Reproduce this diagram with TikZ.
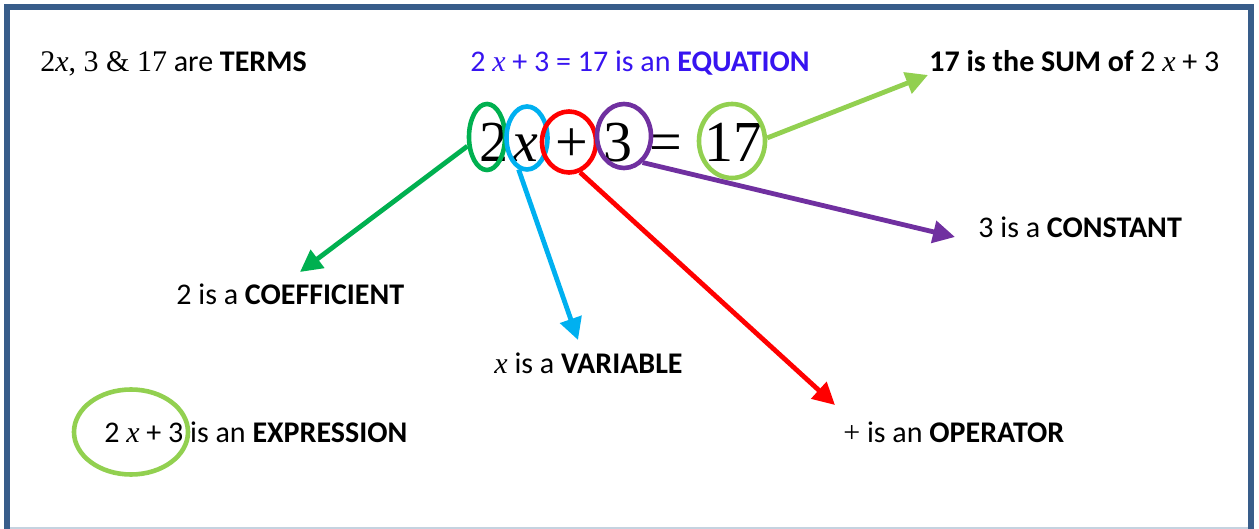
\documentclass[tikz,border=0pt]{standalone}
\usepackage{fontspec}
\setmainfont{Carlito}
\newfontfamily\eqfont{Liberation Serif}
\newcommand{\vx}{{\eqfont\itshape x}}
\usetikzlibrary{arrows.meta,shapes.geometric}
\definecolor{cgreen}{RGB}{0,176,80}
\definecolor{ccyan}{RGB}{0,176,240}
\definecolor{cred}{RGB}{255,0,0}
\definecolor{cpurple}{RGB}{112,48,160}
\definecolor{clgreen}{RGB}{146,208,80}
\definecolor{cframe}{RGB}{56,93,138}
\definecolor{cblue}{RGB}{55,20,240}
\definecolor{cbottom}{RGB}{197,211,224}
\tikzset{
  lab/.style={anchor=base west, inner sep=0pt, font=\fontsize{15}{18}\selectfont},
  sym/.style={anchor=base, inner sep=0pt, font=\eqfont\fontsize{29}{32}\selectfont},
  ring/.style={draw, ellipse, line width=2.3pt, inner sep=0pt},
  arr/.style={line width=2.4pt, -{Triangle[length=11pt,width=11pt]}}
}
\begin{document}
\begin{tikzpicture}[x=0.5pt,y=-0.5pt]
\useasboundingbox (0,0) rectangle (1259,529);
\begin{scope}
\clip (0,0) rectangle (1259,529);
\draw[cframe, line width=3pt] (7,7) rectangle (1251,560);
\draw[cbottom, line width=1pt] (10,528) -- (1248,528);
\end{scope}

% big equation symbols
\node[sym] (s2) at (494,162) {2};
\node[sym] (sx) at (525,162) {\itshape x};
\node[sym] (splus) at (572,162) {+};
\node[sym] (s3) at (618,162) {3};
\node[sym] (seq) at (666,162) {=};
\node[sym] (s17) at (733,162) {17};

% rings
\node[ring, cgreen, minimum width=18pt, minimum height=33pt] (e2) at (487,137) {};
\node[ring, ccyan, minimum width=20.5pt, minimum height=31.5pt] (ex) at (527,138) {};
\node[ring, cred, minimum width=27pt, minimum height=30.5pt] (eplus) at (569,142) {};
\node[ring, cpurple, minimum width=27pt, minimum height=32pt] (e3) at (624,136) {};
\node[ring, clgreen, minimum width=33pt, minimum height=37pt] (e17) at (732,141) {};

% labels
\node[lab] (terms) at (40,72) {{\eqfont 2\vx, 3 \& 17} are \textbf{TERMS}};
\node[lab, text=cblue] (eqn) at (470,72) {2 \vx{} + 3 = 17 is an \textbf{EQUATION}};
\node[lab] (sum) at (929,72) {\textbf{17 is the SUM of} 2 \vx{} + 3};
\node[lab] (const) at (978,238) {3 is a \textbf{CONSTANT}};
\node[lab] (coef) at (176,305) {2 is a \textbf{COEFFICIENT}};
\node[lab] (var) at (494,373) {\vx{} is a \textbf{VARIABLE}};
\node[lab] (expr) at (104,443) {2 \vx{} + 3 is an \textbf{EXPRESSION}};
\node[lab] (oper) at (843,443) {{\eqfont +} is an \textbf{OPERATOR}};
\node[ring, clgreen, minimum width=57pt, minimum height=42.5pt] (eexpr) at (131,432) {};

% arrow ends
\coordinate (tg) at (300,272);
\coordinate (tc) at (578,340);
\coordinate (tr) at (835,405);
\coordinate (tp) at (955,237);
\coordinate (tl) at (928,75);

\draw[arr, cgreen] (e2.205) -- (tg);
\draw[arr, ccyan] (ex.255) -- (tc);
\draw[arr, cred] (eplus.290) -- (tr);
\draw[arr, cpurple] (e3.305) -- (tp);
\draw[arr, clgreen] (e17.5) -- (tl);
\end{tikzpicture}
\end{document}
